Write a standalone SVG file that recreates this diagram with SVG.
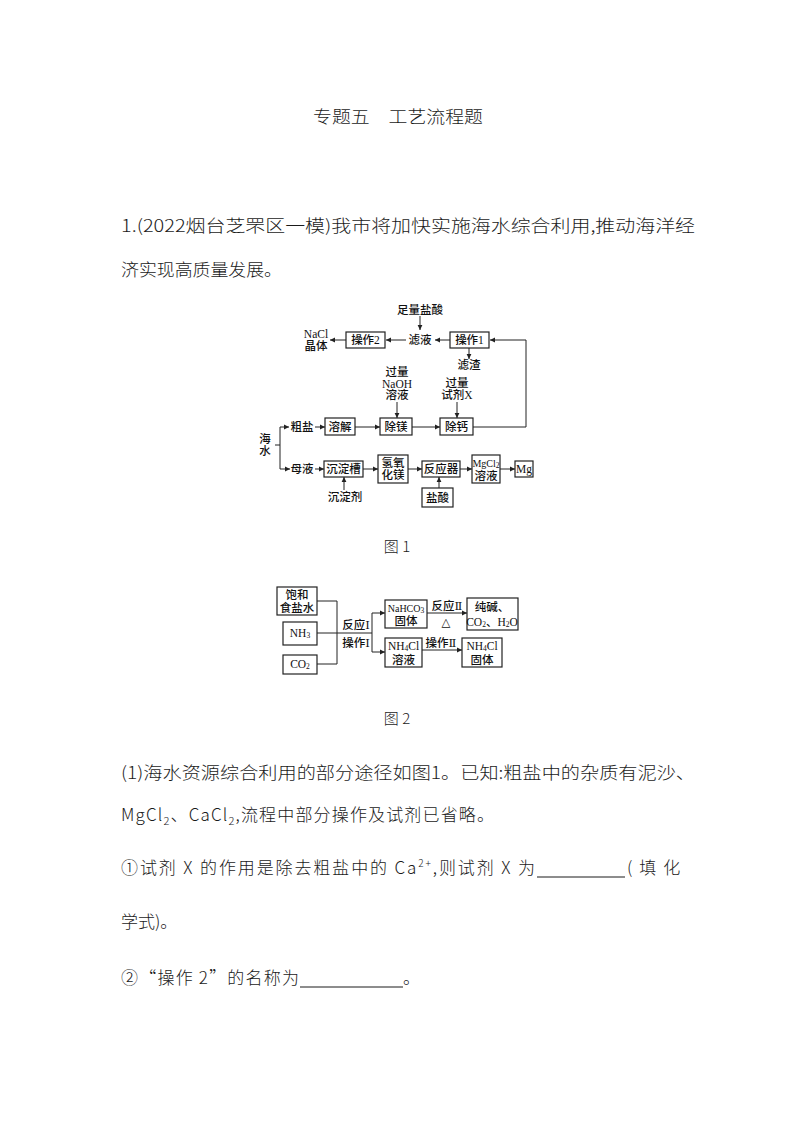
<svg xmlns="http://www.w3.org/2000/svg" width="794" height="1123" viewBox="0 0 794 1123">
<defs>
<marker id="ah" markerUnits="userSpaceOnUse" markerWidth="6" markerHeight="6" refX="5" refY="3" orient="auto">
<path d="M0,0.6 L5,3 L0,5.4 Z" fill="#222"/>
</marker>
<style>
.body{font-family:"Noto Sans CJK SC","Liberation Sans",sans-serif;font-size:17px;font-weight:300;fill:#1a1a1a}
.d{font-family:"Liberation Serif","DejaVu Serif","Noto Sans CJK SC",serif;font-size:11.5px;font-weight:500;fill:#111;text-anchor:middle;dominant-baseline:central}
.sm{font-size:10px}
.box{fill:#fff;stroke:#222;stroke-width:1.2}
.ln{fill:none;stroke:#222;stroke-width:1}
.ar{fill:none;stroke:#222;stroke-width:1;marker-end:url(#ah)}
.cap{font-family:"Noto Sans CJK SC",sans-serif;font-size:15px;font-weight:300;fill:#1a1a1a;text-anchor:middle;dominant-baseline:central}
.sub{font-size:7.5px}
</style>
</defs>
<rect width="794" height="1123" fill="#fff"/>

<g id="page-text">
<text class="body" x="313" y="123" textLength="170" lengthAdjust="spacingAndGlyphs">专题五　工艺流程题</text>
<text class="body" x="121" y="232" textLength="574" lengthAdjust="spacingAndGlyphs">1.(2022烟台芝罘区一模)我市将加快实施海水综合利用,推动海洋经</text>
<text class="body" x="121" y="276" textLength="161" lengthAdjust="spacingAndGlyphs">济实现高质量发展。</text>
<text class="cap" x="397" y="545">图 1</text>
<text class="cap" x="397" y="717">图 2</text>
<text class="body" x="121" y="779" textLength="574" lengthAdjust="spacingAndGlyphs">(1)海水资源综合利用的部分途径如图1。已知:粗盐中的杂质有泥沙、</text>
<text class="body" x="121" y="821" textLength="373" lengthAdjust="spacing">MgCl<tspan font-size="11" dy="4">2</tspan><tspan dy="-4">、CaCl</tspan><tspan font-size="11" dy="4">2</tspan><tspan dy="-4">,流程中部分操作及试剂已省略。</tspan></text>
<text class="body" x="121" y="874" textLength="414" lengthAdjust="spacing">①试剂 X 的作用是除去粗盐中的 Ca<tspan font-size="10" dy="-7">2+</tspan><tspan dy="7">,则试剂 X 为</tspan></text>
<line x1="537" y1="877" x2="625" y2="877" stroke="#1a1a1a" stroke-width="1"/>
<text class="body" x="627" y="874" letter-spacing="7">(填化</text>
<text class="body" x="121" y="928">学式)。</text>
<text class="body" x="121" y="984" textLength="178" lengthAdjust="spacing">②“操作 2”的名称为</text>
<line x1="300" y1="987" x2="403" y2="987" stroke="#1a1a1a" stroke-width="1"/>
<text class="body" x="403" y="984">。</text>
</g>

<!-- Figure 1 -->
<g id="fig1-connectors">
<path class="ar" d="M420,316 V330"/>
<path class="ar" d="M346,340 H330"/>
<path class="ar" d="M406,340 H386"/>
<path class="ar" d="M450,340 H435"/>
<path class="ar" d="M473,427 H526 V340 H490"/>
<path class="ar" d="M469,348 V359"/>
<path class="ar" d="M397,402 V418"/>
<path class="ar" d="M457,402 V418"/>
<path class="ln" d="M275,445 H280 M280,427 V469"/>
<path class="ar" d="M280,427 H289"/>
<path class="ar" d="M280,469 H290"/>
<path class="ar" d="M315,427 H325"/>
<path class="ar" d="M355,427 H380"/>
<path class="ar" d="M412,427 H440"/>
<path class="ar" d="M315,469 H324"/>
<path class="ar" d="M363,469 H378"/>
<path class="ar" d="M408,469 H422"/>
<path class="ar" d="M460,469 H472"/>
<path class="ar" d="M500,469 H515"/>
<path class="ar" d="M344,490 V477"/>
<path class="ar" d="M439,488 V477"/>
</g>

<g id="n-zuliangyansuan"><text class="d" x="420" y="310">足量盐酸</text></g>
<g id="n-caozuo2"><rect class="box" x="346" y="332" width="39" height="16"/><text class="d" x="365.5" y="340">操作2</text></g>
<g id="n-nacl"><text class="d" x="316" y="334">NaCl</text><text class="d" x="316" y="346">晶体</text></g>
<g id="n-lvye"><text class="d" x="420" y="340">滤液</text></g>
<g id="n-caozuo1"><rect class="box" x="450" y="332" width="39" height="16"/><text class="d" x="469.5" y="340">操作1</text></g>
<g id="n-lvzha"><text class="d" x="469" y="365">滤渣</text></g>
<g id="n-naoh"><text class="d" x="397" y="372">过量</text><text class="d" x="397" y="384">NaOH</text><text class="d" x="397" y="395">溶液</text></g>
<g id="n-shijix"><text class="d" x="457" y="383">过量</text><text class="d" x="457" y="395">试剂X</text></g>
<g id="n-haishui"><text class="d" x="265" y="439">海</text><text class="d" x="265" y="451">水</text></g>
<g id="n-cuyan"><text class="d" x="302" y="427">粗盐</text></g>
<g id="n-rongjie"><rect class="box" x="325" y="418" width="30" height="17"/><text class="d" x="340" y="427">溶解</text></g>
<g id="n-chumei"><rect class="box" x="380" y="418" width="32" height="17"/><text class="d" x="396" y="427">除镁</text></g>
<g id="n-chugai"><rect class="box" x="440" y="418" width="33" height="17"/><text class="d" x="456.5" y="427">除钙</text></g>
<g id="n-muye"><text class="d" x="302" y="469">母液</text></g>
<g id="n-chendiancao"><rect class="box" x="324" y="461" width="39" height="16"/><text class="d" x="343.5" y="469">沉淀槽</text></g>
<g id="n-chendianji"><text class="d" x="345" y="497">沉淀剂</text></g>
<g id="n-mgoh"><rect class="box" x="378" y="455" width="30" height="28"/><text class="d" x="393" y="463">氢氧</text><text class="d" x="393" y="475">化镁</text></g>
<g id="n-fanyingqi"><rect class="box" x="422" y="461" width="38" height="16"/><text class="d" x="441" y="469">反应器</text></g>
<g id="n-yansuan"><rect class="box" x="422" y="488" width="31" height="19"/><text class="d" x="437.5" y="497.5">盐酸</text></g>
<g id="n-mgcl2"><rect class="box" x="472" y="455" width="28" height="28"/><text class="d sm" x="486" y="463">MgCl<tspan class="sub" dy="2">2</tspan></text><text class="d" x="486" y="476">溶液</text></g>
<g id="n-mg"><rect class="box" x="515" y="461" width="18" height="16"/><text class="d" x="524" y="469">Mg</text></g>

<!-- Figure 2 -->
<g id="fig2-connectors">
<path class="ln" d="M317,601 H337 M317,664 H337 M337,601 V664 M317,633 H372 M372,613 V652"/>
<path class="ar" d="M372,613 H385"/>
<path class="ar" d="M372,652 H385"/>
<path class="ar" d="M427,613 H467"/>
<path class="ar" d="M422,650 H462"/>
</g>

<g id="n-baohe"><rect class="box" x="277" y="587" width="40" height="28"/><text class="d" x="297" y="595">饱和</text><text class="d" x="297" y="608">食盐水</text></g>
<g id="n-nh3"><rect class="box" x="283" y="622" width="34" height="23"/><text class="d" x="300" y="633">NH<tspan class="sub" dy="2">3</tspan></text></g>
<g id="n-co2"><rect class="box" x="283" y="655" width="34" height="19"/><text class="d" x="300" y="664">CO<tspan class="sub" dy="2">2</tspan></text></g>
<g id="n-fanying1"><text class="d" x="356" y="625">反应Ⅰ</text><text class="d" x="356" y="643">操作Ⅰ</text></g>
<g id="n-nahco3"><rect class="box" x="385" y="600" width="42" height="28"/><text class="d sm" x="406" y="608">NaHCO<tspan class="sub" dy="2">3</tspan></text><text class="d" x="406" y="621">固体</text></g>
<g id="n-fanying2"><text class="d" x="447" y="606">反应Ⅱ</text><text class="d" x="446" y="622">△</text></g>
<g id="n-chunjian"><rect class="box" x="467" y="598" width="51" height="32"/><text class="d" x="492" y="607">纯碱、</text><text class="d" x="492" y="622">CO<tspan class="sub" dy="2">2</tspan><tspan dy="-2">、H</tspan><tspan class="sub" dy="2">2</tspan><tspan dy="-2">O</tspan></text></g>
<g id="n-nh4cl-sol"><rect class="box" x="385" y="638" width="37" height="29"/><text class="d" x="403.5" y="646">NH<tspan class="sub" dy="2">4</tspan><tspan dy="-2">Cl</tspan></text><text class="d" x="403.5" y="660">溶液</text></g>
<g id="n-caozuo2b"><text class="d" x="441" y="643">操作Ⅱ</text></g>
<g id="n-nh4cl-solid"><rect class="box" x="462" y="638" width="40" height="29"/><text class="d" x="482" y="646">NH<tspan class="sub" dy="2">4</tspan><tspan dy="-2">Cl</tspan></text><text class="d" x="482" y="660">固体</text></g>
</svg>
